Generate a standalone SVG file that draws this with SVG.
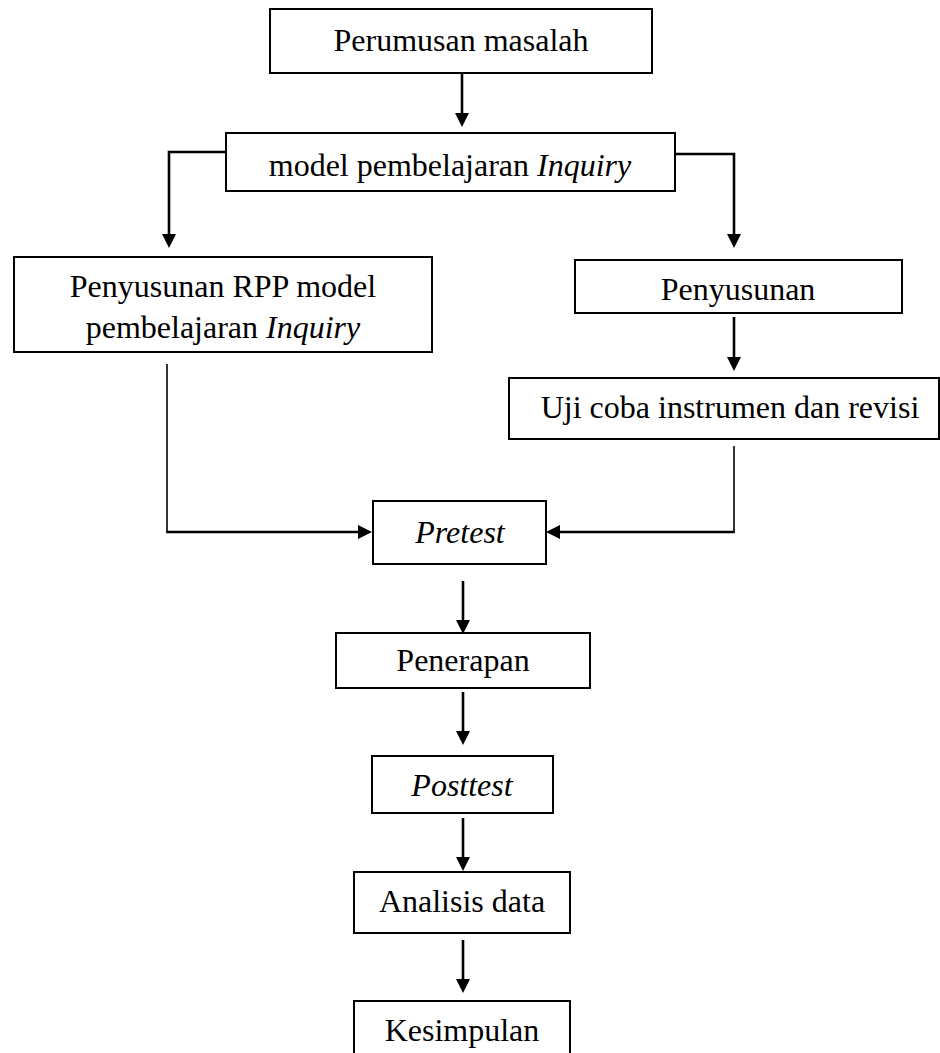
<svg xmlns="http://www.w3.org/2000/svg" width="940" height="1053" viewBox="0 0 940 1053">
<style>
.box{fill:#fff;stroke:#000;stroke-width:2}
.t{font-family:"Liberation Serif","Times New Roman",serif;font-size:32px;fill:#000;text-anchor:middle}
.i{font-style:italic}
.arr{fill:none;stroke:#000;stroke-width:2.6}
.thin{fill:none;stroke:#000;stroke-width:1.6}
</style>
<defs>
<marker id="ah" markerUnits="userSpaceOnUse" markerWidth="14" markerHeight="14" viewBox="0 0 14 14" refX="6" refY="7" orient="auto">
<path d="M0,0 L14,7 L0,14 z" fill="#000"/>
</marker>
</defs>
<rect width="940" height="1053" fill="#fff"/>
<g id="connectors">
<line class="arr" x1="462" y1="73" x2="462" y2="119" marker-end="url(#ah)"/>
<path class="arr" d="M226,152 H169 V240" marker-end="url(#ah)"/>
<path class="arr" d="M675,154 H734 V240" marker-end="url(#ah)"/>
<line class="arr" x1="734" y1="317" x2="734" y2="363" marker-end="url(#ah)"/>
<line class="thin" x1="167" y1="364" x2="167" y2="533"/>
<line class="arr" x1="166.5" y1="532" x2="364" y2="532" marker-end="url(#ah)"/>
<line class="thin" x1="734" y1="446" x2="734" y2="533"/>
<line class="arr" x1="734.5" y1="532" x2="554" y2="532" marker-end="url(#ah)"/>
<line class="arr" x1="463" y1="581" x2="463" y2="626" marker-end="url(#ah)"/>
<line class="arr" x1="463" y1="692" x2="463" y2="737" marker-end="url(#ah)"/>
<line class="arr" x1="463" y1="818" x2="463" y2="863" marker-end="url(#ah)"/>
<line class="arr" x1="463" y1="940" x2="463" y2="985" marker-end="url(#ah)"/>
</g>
<g id="perumusan">
<rect class="box" x="270" y="9" width="382" height="64"/>
<text class="t" x="461" y="51">Perumusan masalah</text>
</g>
<g id="model">
<rect class="box" x="226" y="133" width="449" height="58"/>
<text class="t" x="450" y="176">model pembelajaran <tspan class="i">Inquiry</tspan></text>
</g>
<g id="rpp">
<rect class="box" x="14" y="257" width="418" height="95"/>
<text class="t" x="223" y="297">Penyusunan RPP model</text>
<text class="t" x="223" y="338">pembelajaran <tspan class="i">Inquiry</tspan></text>
</g>
<g id="penyusunan">
<rect class="box" x="575" y="260" width="327" height="53"/>
<text class="t" x="738" y="300">Penyusunan</text>
</g>
<g id="uji">
<rect class="box" x="509" y="378" width="430" height="61"/>
<text class="t" x="730" y="418">Uji coba instrumen dan revisi</text>
</g>
<g id="pretest">
<rect class="box" x="373" y="501" width="173" height="63"/>
<text class="t i" x="460" y="543">Pretest</text>
</g>
<g id="penerapan">
<rect class="box" x="336" y="633" width="254" height="55"/>
<text class="t" x="463" y="671">Penerapan</text>
</g>
<g id="posttest">
<rect class="box" x="372" y="756" width="181" height="57"/>
<text class="t i" x="462" y="796">Posttest</text>
</g>
<g id="analisis">
<rect class="box" x="354" y="872" width="216" height="61"/>
<text class="t" x="462" y="912">Analisis data</text>
</g>
<g id="kesimpulan">
<rect class="box" x="354" y="1001" width="216" height="70"/>
<text class="t" x="462" y="1041">Kesimpulan</text>
</g>
</svg>
